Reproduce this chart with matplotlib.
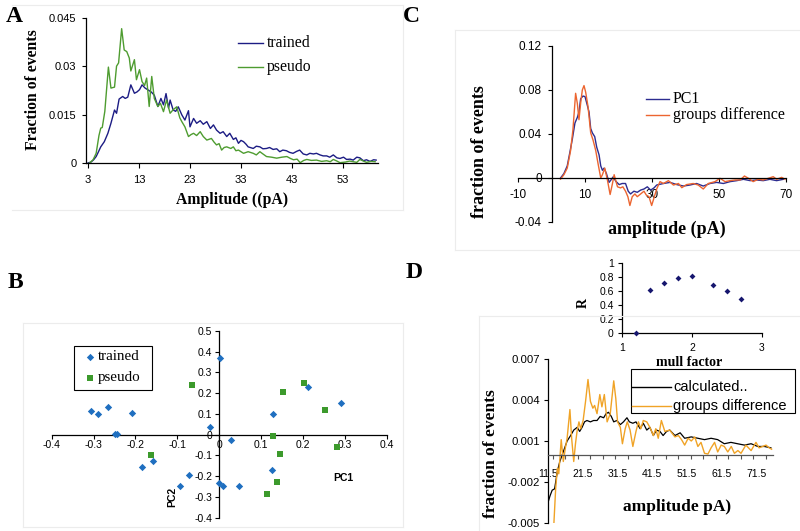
import matplotlib
matplotlib.use("Agg")
import matplotlib.pyplot as plt
from matplotlib.lines import Line2D
from matplotlib.patches import Rectangle
import numpy as np

W, H = 800, 531
SERIF = "Liberation Serif"
SANS = "Liberation Sans"

# ---------------- Panel A data ----------------
a_trained_x = [3.0, 3.6, 4.1, 4.6, 5.0, 5.5, 6.2, 6.9, 7.5, 8.2, 8.6, 9.1, 9.8, 10.3, 10.8, 11.4, 12.1, 12.6, 13.1, 13.6,
               14.2, 14.7, 15.4, 16.0, 16.7, 17.3, 17.8, 18.3, 18.8, 19.1, 19.7, 20.2, 20.7, 21.4, 22.0, 22.7, 23.0, 23.7,
               24.3, 25.0, 25.6, 26.3, 27.0, 27.6, 28.2, 28.9, 29.5, 30.2, 30.8, 31.5, 32.0, 32.5, 33.0, 33.5, 34.0, 34.4,
               35.4, 36.0, 36.7, 37.3, 38.0, 38.6, 39.3, 40.0, 40.6, 41.2, 41.9, 42.5, 43.2, 43.9, 44.5, 45.2, 45.9, 46.5,
               47.2, 47.8, 48.5, 49.1, 49.8, 50.4, 51.1, 51.8, 52.4, 53.1, 53.7, 54.4, 55.0, 55.7, 56.3, 57.0, 57.6, 58.3,
               59.0, 59.5]
a_trained_y = [0.0, 0.0003, 0.001, 0.002, 0.0033, 0.005, 0.0066, 0.0092, 0.0123, 0.0164, 0.0154, 0.0198, 0.0206, 0.020,
               0.0204, 0.0242, 0.0216, 0.0220, 0.0227, 0.0242, 0.0232, 0.0227, 0.0220, 0.021, 0.0175, 0.020, 0.018, 0.0215,
               0.017, 0.0195, 0.0164, 0.016, 0.0174, 0.0149, 0.0133, 0.0162, 0.0112, 0.0138, 0.0123, 0.0131, 0.0120, 0.0128,
               0.0107, 0.0118, 0.0102, 0.0092, 0.0097, 0.0082, 0.0092, 0.0073, 0.0078, 0.0061, 0.0070, 0.0066, 0.0058,
               0.0050, 0.0045, 0.0052, 0.0050, 0.0044, 0.0045, 0.0048, 0.0042, 0.0044, 0.0035, 0.0040, 0.0038, 0.0033,
               0.0030, 0.0036, 0.0040, 0.0028, 0.0025, 0.0030, 0.0028, 0.0030, 0.0025, 0.0022, 0.0022, 0.0018, 0.0025,
               0.0016, 0.0014, 0.0018, 0.0011, 0.0012, 0.0009, 0.0018, 0.0016, 0.0007, 0.0010, 0.0005, 0.0010, 0.0009]
a_pseudo_x = [3.3, 4.0, 4.6, 5.15, 5.5, 5.8, 6.3, 7.0, 7.5, 8.2, 8.6, 9.0, 9.6, 10.1, 10.6, 11.1, 11.4, 12.1, 12.5, 13.1,
              13.6, 14.1, 14.5, 15.0, 15.5, 16.0, 16.7, 17.2, 17.8, 18.4, 19.1, 19.7, 20.4, 21.0, 21.4, 22.0, 22.7, 23.2,
              23.7, 24.3, 25.0, 25.6, 26.3, 27.2, 27.7, 28.2, 28.7, 29.2, 29.7, 30.2, 31.0, 31.5, 32.0, 32.5, 33.5, 34.4,
              35.4, 36.0, 36.7, 37.3, 38.0, 39.0, 40.0, 41.0, 42.0, 42.7, 43.3, 44.0, 44.6, 45.3, 45.9, 46.8, 47.8, 48.8,
              49.8, 50.5, 51.1, 51.8, 52.4, 53.5, 54.3, 55.0, 55.7, 56.3, 57.0, 57.6, 58.5, 59.3]
a_pseudo_y = [0.0, 0.001, 0.003, 0.0085, 0.0108, 0.011, 0.016, 0.0297, 0.0232, 0.0235, 0.030, 0.031, 0.0416, 0.035, 0.0345,
              0.0325, 0.0285, 0.032, 0.0258, 0.0289, 0.0252, 0.0240, 0.0263, 0.0175, 0.0268, 0.0200, 0.0175, 0.0185,
              0.0159, 0.0195, 0.0154, 0.0165, 0.0174, 0.0140, 0.0128, 0.0112, 0.0082, 0.0088, 0.0092, 0.0085, 0.0097,
              0.0082, 0.0071, 0.0076, 0.0065, 0.0056, 0.0060, 0.0040, 0.0048, 0.0050, 0.0045, 0.0050, 0.0038, 0.0040,
              0.0030, 0.0035, 0.0030, 0.0025, 0.0035, 0.0028, 0.0020, 0.0018, 0.0015, 0.0018, 0.0020, 0.0014, 0.0010,
              0.0012, 0.0001, 0.0008, 0.0011, 0.0008, 0.0009, 0.0005, 0.0007, 0.0004, 0.0011, 0.0006, 0.0001, 0.0003,
              0.0006, 0.0004, 0.0002, 0.0011, 0.0006, 0.0002, 0.0005, 0.0004]
a_xticks = [3, 13, 23, 33, 43, 53]
a_yticks = [0, 0.015, 0.03, 0.045]
a_yticklabels = ["0", "0.015", "0.03", "0.045"]

# ---------------- Panel B data ----------------
b_trained_x = [-0.307, -0.289, -0.266, -0.249, -0.245, -0.209, -0.184, -0.159, -0.093, -0.072, -0.022, 0.003, 0.0, 0.008,
               0.027, 0.048, 0.129, 0.127, 0.211, 0.291]
b_trained_y = [0.114, 0.101, 0.133, 0.003, 0.004, 0.103, -0.156, -0.127, -0.249, -0.195, 0.035, 0.368, -0.233, -0.246,
               -0.026, -0.246, 0.098, -0.172, 0.228, 0.153]
b_pseudo_x = [-0.064, -0.163, 0.129, 0.152, 0.145, 0.137, 0.113, 0.203, 0.253, 0.281]
b_pseudo_y = [0.240, -0.100, -0.005, 0.206, -0.092, -0.228, -0.288, 0.248, 0.117, -0.061]
b_xticks = [-0.4, -0.3, -0.2, -0.1, 0, 0.1, 0.2, 0.3, 0.4]
b_xticklabels = ["-0.4", "-0.3", "-0.2", "-0.1", "0", "0.1", "0.2", "0.3", "0.4"]
b_yticks = [-0.4, -0.3, -0.2, -0.1, 0, 0.1, 0.2, 0.3, 0.4, 0.5]
b_yticklabels = ["-0.4", "-0.3", "-0.2", "-0.1", "0", "0.1", "0.2", "0.3", "0.4", "0.5"]

# ---------------- Panel C data ----------------
c_pc1_x = [2.7, 3.7, 4.7, 5.4, 6.2, 7.0, 7.7, 8.2, 8.7, 9.4, 10.0, 10.7, 11.2, 11.7, 12.2, 12.9, 13.5, 14.2, 14.7, 15.2,
           15.7, 16.4, 17.2, 17.7, 18.4, 19.2, 20.2, 21.1, 22.1, 22.9, 23.6, 24.6, 25.6, 26.6, 27.6, 28.6, 29.6, 30.6,
           31.4, 33.4, 35.4, 37.4, 39.4, 41.3, 43.3, 45.3, 47.3, 49.3, 51.3, 53.3, 55.3, 57.3, 59.3, 61.2, 63.2, 65.2,
           67.2, 69.2]
c_pc1_y = [0.0, 0.004, 0.011, 0.022, 0.035, 0.050, 0.055, 0.060, 0.072, 0.0745, 0.074, 0.066, 0.060, 0.045, 0.041,
           0.0376, 0.028, 0.021, 0.011, 0.007, 0.009, 0.004, -0.004, -0.002, 0.001, -0.003, -0.006, -0.005, -0.005,
           -0.012, -0.0145, -0.012, -0.013, -0.011, -0.010, -0.008, -0.011, -0.009, -0.0064, -0.005, -0.004, -0.006,
           -0.0073, -0.0064, -0.005, -0.0073, -0.005, -0.004, -0.005, -0.0033, -0.0024, -0.0012, -0.0024, -0.0018,
           -0.0024, -0.0012, -0.0024, -0.0012]
c_diff_x = [2.7, 3.7, 4.7, 5.7, 6.4, 7.2, 7.7, 8.2, 8.7, 9.2, 9.7, 10.2, 10.9, 11.7, 12.4, 13.2, 13.9, 14.7, 15.2, 15.9,
            16.7, 17.5, 18.2, 18.7, 19.7, 20.6, 21.3, 22.1, 22.8, 23.4, 24.1, 24.9, 25.6, 26.6, 27.6, 28.3, 29.1, 29.9,
            30.6, 31.4, 32.4, 33.4, 34.9, 36.4, 37.9, 38.9, 40.3, 42.3, 43.8, 45.3, 46.8, 48.8, 50.3, 51.8, 53.3, 54.8,
            56.3, 57.6, 58.8, 60.2, 61.7, 63.2, 64.7, 66.2, 67.2, 68.7, 69.7]
c_diff_y = [-0.001, 0.003, 0.009, 0.025, 0.044, 0.077, 0.068, 0.053, 0.068, 0.080, 0.084, 0.078, 0.065, 0.041, 0.0345,
            0.025, 0.013, 0.0, 0.003, 0.009, -0.002, -0.015, -0.005, 0.003, -0.008, -0.009, -0.008, -0.012, -0.017,
            -0.025, -0.017, -0.0145, -0.017, -0.0145, -0.012, -0.0155, -0.017, -0.025, -0.018, -0.010, -0.0033,
            -0.005, -0.0024, -0.0064, -0.005, -0.0088, -0.006, -0.005, -0.0064, -0.010, -0.005, -0.0033, -0.0003,
            -0.0033, -0.0024, -0.0018, -0.0018, 0.0018, -0.0003, -0.0033, -0.0012, -0.0018, -0.0003, 0.0012, -0.0012,
            0.0006, -0.0012]
c_xticks = [-10, 10, 30, 50, 70]
c_yticks = [-0.04, 0, 0.04, 0.08, 0.12]
c_yticklabels = ["-0.04", "0", "0.04", "0.08", "0.12"]

# ---------------- Panel D data ----------------
d_mull = [1.2, 1.4, 1.6, 1.8, 2.0, 2.3, 2.5, 2.7]
d_R = [0.0, 0.61, 0.72, 0.79, 0.81, 0.68, 0.60, 0.49]
d_calc_x = [11.5, 12.1, 12.7, 13.4, 14.2, 14.9, 15.6, 16.3, 17.0, 18.0, 18.9, 19.9, 20.6, 21.3, 22.0, 22.7, 23.7, 24.6,
            25.6, 26.5, 27.5, 28.2, 28.9, 29.7, 30.4, 31.3, 32.3, 33.2, 34.2, 34.9, 35.9, 36.8, 38.0, 38.9, 39.9, 40.8,
            41.8, 42.7, 43.7, 44.6, 45.6, 46.5, 48.0, 49.5, 50.8, 52.7, 54.6, 56.5, 58.4, 60.3, 62.2, 64.1, 66.0, 68.0,
            69.9, 71.8, 73.7, 75.6]
d_calc_y = [-0.0035, -0.003, -0.0026, -0.0025, -0.0012, -0.0005, 0.0, 0.0005, 0.001, 0.0014, 0.0018, 0.002, 0.0017,
            0.002, 0.0024, 0.0025, 0.0024, 0.0025, 0.0025, 0.0028, 0.0027, 0.003, 0.0031, 0.0028, 0.0024, 0.0025,
            0.0022, 0.0024, 0.0027, 0.0024, 0.0023, 0.0024, 0.0019, 0.0023, 0.0018, 0.002, 0.0014, 0.0018, 0.0017,
            0.0014, 0.0017, 0.0018, 0.0014, 0.0016, 0.0012, 0.0013, 0.0012, 0.0011, 0.0012, 0.0011, 0.0008, 0.0009,
            0.0008, 0.0007, 0.0008, 0.0006, 0.0006, 0.0005]
d_diff_x = [13.2, 13.7, 14.2, 14.6, 15.3, 15.9, 16.5, 17.0, 17.8, 18.3, 18.9, 19.4, 19.9, 20.4, 20.9, 21.6, 22.3, 23.0,
            23.7, 24.4, 24.9, 25.6, 26.4, 27.0, 27.7, 28.5, 29.4, 30.4, 31.0, 31.5, 32.3, 32.9, 33.7, 34.3, 35.1, 35.9,
            36.8, 37.5, 38.2, 38.9, 39.9, 40.8, 41.8, 42.5, 43.2, 44.1, 45.1, 46.5, 48.0, 49.0, 49.9, 50.8, 51.8, 52.7,
            53.7, 54.6, 55.5, 56.5, 57.5, 58.4, 59.4, 60.3, 61.3, 62.2, 63.2, 64.2, 65.1, 66.1, 67.0, 68.4, 69.9, 71.3,
            72.2, 73.2, 74.2, 75.1, 75.8]
d_diff_y = [-0.005, -0.0025, -0.001, -0.0014, 0.0011, -0.0005, 0.0005, 0.0012, 0.0033, 0.0012, -0.0005, 0.0008, 0.0018,
            0.0024, 0.0019, 0.0025, 0.0039, 0.0055, 0.0039, 0.0034, 0.0036, 0.003, 0.0044, 0.0035, 0.0044, 0.0024,
            0.003, 0.0054, 0.0041, 0.0024, 0.002, 0.0008, 0.0019, 0.0024, 0.0018, 0.0006, 0.0017, 0.0024, 0.0019,
            0.0025, 0.0024, 0.002, 0.0014, 0.0019, 0.0012, 0.0025, 0.0017, 0.0018, 0.0013, 0.0014, 0.0011, 0.0007,
            0.0012, 0.001, 0.0013, 0.0006, 0.0009, 0.0001, 0.00005, 0.0005, 0.0009, 0.0002, 0.0007, 0.0006, 0.0002,
            0.0006, 0.0001, 0.0003, 0.0001, 0.0007, 0.0003, 0.0009, 0.0005, 0.0006, 0.0007, 0.0005, 0.0004]
d_xticks = [11.5, 21.5, 31.5, 41.5, 51.5, 61.5, 71.5]
d_yticks = [-0.005, -0.002, 0.001, 0.004, 0.007]
d_yticklabels = ["-0.005", "-0.002", "0.001", "0.004", "0.007"]
d_in_xticks = [1, 2, 3]
d_in_yticks = [0, 0.2, 0.4, 0.6, 0.8, 1]
d_in_yticklabels = ["0", "0.2", "0.4", "0.6", "0.8", "1"]

fig = plt.figure(figsize=(W / 100, H / 100), dpi=100)
fig.patch.set_facecolor("white")


def add_ax(l, t, w, h):
    return fig.add_axes([l / W, 1 - (t + h) / H, w / W, h / H])


def ftext(x, y, s, **kw):
    return fig.text(x / W, 1 - y / H, s, **kw)


def fline(x0, y0, x1, y1, **kw):
    fig.add_artist(Line2D([x0 / W, x1 / W], [1 - y0 / H, 1 - y1 / H], transform=fig.transFigure, **kw))


# faint panel frames
fc = "#ececec"
fline(12, 5, 403, 5, color=fc, lw=0.8)
fline(403, 5, 403, 210, color=fc, lw=0.8)
fline(12, 210, 403, 210, color=fc, lw=0.8)
fline(23, 323, 403, 323, color=fc, lw=0.8)
fline(23, 323, 23, 527, color=fc, lw=0.8)
fline(403, 323, 403, 527, color=fc, lw=0.8)
fline(23, 527, 403, 527, color=fc, lw=0.8)
fline(455, 30, 800, 30, color=fc, lw=0.8)
fline(455, 30, 455, 250, color=fc, lw=0.8)
fline(455, 250, 800, 250, color=fc, lw=0.8)
fline(479, 316, 800, 316, color=fc, lw=0.8)
fline(479, 316, 479, 531, color=fc, lw=0.8)


def style(ax):
    ax.set_facecolor("none")
    for s in ["top", "right"]:
        ax.spines[s].set_visible(False)
    for s in ["left", "bottom"]:
        ax.spines[s].set_linewidth(0.9)
        ax.spines[s].set_color("black")


# ---------------- Panel A ----------------
axA = add_ax(86, 17.7, 292, 145.3)
style(axA)
axA.plot(a_trained_x, a_trained_y, color="#1c1c84", lw=1.0)
axA.plot(a_pseudo_x, a_pseudo_y, color="#4e9c30", lw=1.0)
axA.set_xlim(2.61, 59.86)
axA.set_ylim(0, 0.045)
axA.set_xticks(a_xticks)
axA.set_xticklabels([str(v) for v in a_xticks], fontname=SANS, fontsize=8)
axA.set_yticks(a_yticks)
axA.set_yticklabels(a_yticklabels, fontname=SANS, fontsize=8)
axA.tick_params(axis="x", direction="out", length=3.5, width=0.8, pad=5)
axA.tick_params(axis="y", direction="out", length=3, width=0.8, pad=4)
ftext(33, 90, "Fraction of events", rotation=90, fontname=SERIF, fontweight="bold", fontsize=11.3, ha="center", va="center")
ftext(232, 200, "Amplitude ((pA)", fontname=SERIF, fontweight="bold", fontsize=11.3, ha="center", va="center")
fline(238, 43, 263, 43, color="#1c1c84", lw=1.0)
fline(238, 67, 263, 67, color="#4e9c30", lw=1.0)
ftext(267, 43, "trained", fontname=SERIF, fontsize=11.3, ha="left", va="center")
ftext(267, 67, "pseudo", fontname=SERIF, fontsize=11.3, ha="left", va="center")
ftext(14, 16, "A", fontname=SERIF, fontweight="bold", fontsize=17, ha="center", va="center")

# ---------------- Panel B ----------------
axB = add_ax(51.7, 331, 335, 186.7)
style(axB)
axB.set_xlim(-0.4, 0.4)
axB.set_ylim(-0.4, 0.5)
axB.spines["left"].set_position(("data", 0))
axB.spines["bottom"].set_position(("data", 0))
axB.scatter(b_trained_x, b_trained_y, marker="D", s=14, color="#1f6fc0", linewidths=0, zorder=3)
axB.scatter(b_pseudo_x, b_pseudo_y, marker="s", s=14, color="#3c9a2c", linewidths=0, zorder=3)
axB.set_xticks(b_xticks)
axB.set_xticklabels(b_xticklabels, fontname=SANS, fontsize=7.5)
axB.set_yticks(b_yticks)
axB.set_yticklabels(b_yticklabels, fontname=SANS, fontsize=7.5)
axB.tick_params(axis="x", direction="out", length=3, width=0.8, pad=0.5)
axB.tick_params(axis="y", direction="out", length=3, width=0.8, pad=2)
ftext(343, 478, "PC1", fontname=SANS, fontweight="bold", fontsize=7.5, ha="center", va="center")
ftext(172, 497, "PC2", fontname=SANS, fontweight="bold", fontsize=7.5, rotation=90, ha="center", va="center")

ov = fig.add_axes([0, 0, 1, 1], facecolor="none", zorder=10)
ov.set_xlim(0, W)
ov.set_ylim(H, 0)
ov.axis("off")
ov.add_patch(Rectangle((74, 346), 78, 44, facecolor="white", edgecolor="black", lw=0.8, zorder=1))
ov.scatter([90], [357], marker="D", s=14, color="#1f6fc0", linewidths=0, zorder=2)
ov.scatter([90], [378], marker="s", s=14, color="#3c9a2c", linewidths=0, zorder=2)
ov.text(98, 357, "trained", fontname=SERIF, fontsize=10.8, ha="left", va="center", zorder=2)
ov.text(98, 378, "pseudo", fontname=SERIF, fontsize=10.8, ha="left", va="center", zorder=2)
ftext(15, 282, "B", fontname=SERIF, fontweight="bold", fontsize=17, ha="center", va="center")

# ---------------- Panel C ----------------
axC = add_ax(518, 46, 268, 176)
style(axC)
axC.set_xlim(-10, 70)
axC.set_ylim(-0.04, 0.12)
axC.spines["left"].set_position(("data", 0))
axC.spines["bottom"].set_position(("data", 0))
axC.plot(c_pc1_x, c_pc1_y, color="#2c2c90", lw=1.0)
axC.plot(c_diff_x, c_diff_y, color="#ec6530", lw=1.0)
axC.set_xticks(c_xticks)
axC.set_xticklabels([str(v) for v in c_xticks], fontname=SANS, fontsize=8.5)
axC.set_yticks(c_yticks)
axC.set_yticklabels(c_yticklabels, fontname=SANS, fontsize=8.5)
axC.tick_params(axis="x", direction="out", length=3, width=0.8, pad=5)
axC.tick_params(axis="y", direction="out", length=3, width=0.8, pad=4)
ftext(479, 152, "fraction of events", rotation=90, fontname=SERIF, fontweight="bold", fontsize=13, ha="center", va="center")
ftext(667, 229, "amplitude (pA)", fontname=SERIF, fontweight="bold", fontsize=13, ha="center", va="center")
fline(646, 99, 669, 99, color="#2c2c90", lw=1.0)
fline(646, 115, 669, 115, color="#ec6530", lw=1.0)
ftext(673, 99, "PC1", fontname=SERIF, fontsize=11.5, ha="left", va="center")
ftext(673, 115, "groups difference", fontname=SERIF, fontsize=11.5, ha="left", va="center")
ftext(411, 16, "C", fontname=SERIF, fontweight="bold", fontsize=17, ha="center", va="center")

# ---------------- Panel D inset ----------------
axI = add_ax(622, 263, 140, 70)
style(axI)
axI.set_xlim(1, 3)
axI.set_ylim(0, 1)
axI.scatter(d_mull, d_R, marker="D", s=9, color="#16166e", linewidths=0, zorder=3, clip_on=False)
axI.set_xticks(d_in_xticks)
axI.set_xticklabels([str(v) for v in d_in_xticks], fontname=SANS, fontsize=7.5)
axI.set_yticks(d_in_yticks)
axI.set_yticklabels(d_in_yticklabels, fontname=SANS, fontsize=7.5)
axI.tick_params(axis="x", direction="out", length=3, width=0.8, pad=4)
axI.tick_params(axis="y", direction="out", length=3, width=0.8, pad=3)
ftext(689, 363, "mull factor", fontname=SERIF, fontweight="bold", fontsize=10, ha="center", va="center")
ftext(583, 303, "R", rotation=90, fontname=SERIF, fontweight="bold", fontsize=10, ha="center", va="center")

# ---------------- Panel D main ----------------
axD = add_ax(548, 359, 225, 164)
style(axD)
axD.set_xlim(11.5, 76.2)
axD.set_ylim(-0.005, 0.007)
axD.spines["bottom"].set_position(("data", 0))
axD.spines["bottom"].set_color("#555555")
axD.plot(d_calc_x, d_calc_y, color="black", lw=0.9)
axD.plot(d_diff_x, d_diff_y, color="#f0a326", lw=1.0)
axD.set_xticks(d_xticks)
axD.set_xticklabels([str(v) for v in d_xticks], fontname=SANS, fontsize=7.5)
axD.set_xticks(np.arange(12.9, 76.2, 3.6), minor=True)
axD.set_yticks(d_yticks)
axD.set_yticklabels(d_yticklabels, fontname=SANS, fontsize=8.2)
axD.tick_params(axis="x", which="major", direction="out", length=0, pad=10)
axD.tick_params(axis="x", which="minor", direction="out", length=3, width=0.8, color="#555555")
axD.tick_params(axis="y", direction="out", length=3, width=0.8, pad=3)
ftext(491, 454, "fraction of events", rotation=90, fontname=SERIF, fontweight="bold", fontsize=12.5, ha="center", va="center")
ftext(677, 507, "amplitude pA)", fontname=SERIF, fontweight="bold", fontsize=12.5, ha="center", va="center")
ov.add_patch(Rectangle((631, 369), 164, 44, facecolor="white", edgecolor="black", lw=0.8, zorder=1))
ov.plot([632, 671], [387, 387], color="black", lw=1.0, zorder=2)
ov.plot([632, 671], [406, 406], color="#f0a326", lw=1.0, zorder=2)
ov.text(673, 387, "calculated..", fontname=SANS, fontsize=10.5, ha="left", va="center", zorder=2)
ov.text(673, 406, "groups difference", fontname=SANS, fontsize=10.5, ha="left", va="center", zorder=2)
ftext(414, 273, "D", fontname=SERIF, fontweight="bold", fontsize=17, ha="center", va="center")

fig.savefig("out.png", dpi=100)
